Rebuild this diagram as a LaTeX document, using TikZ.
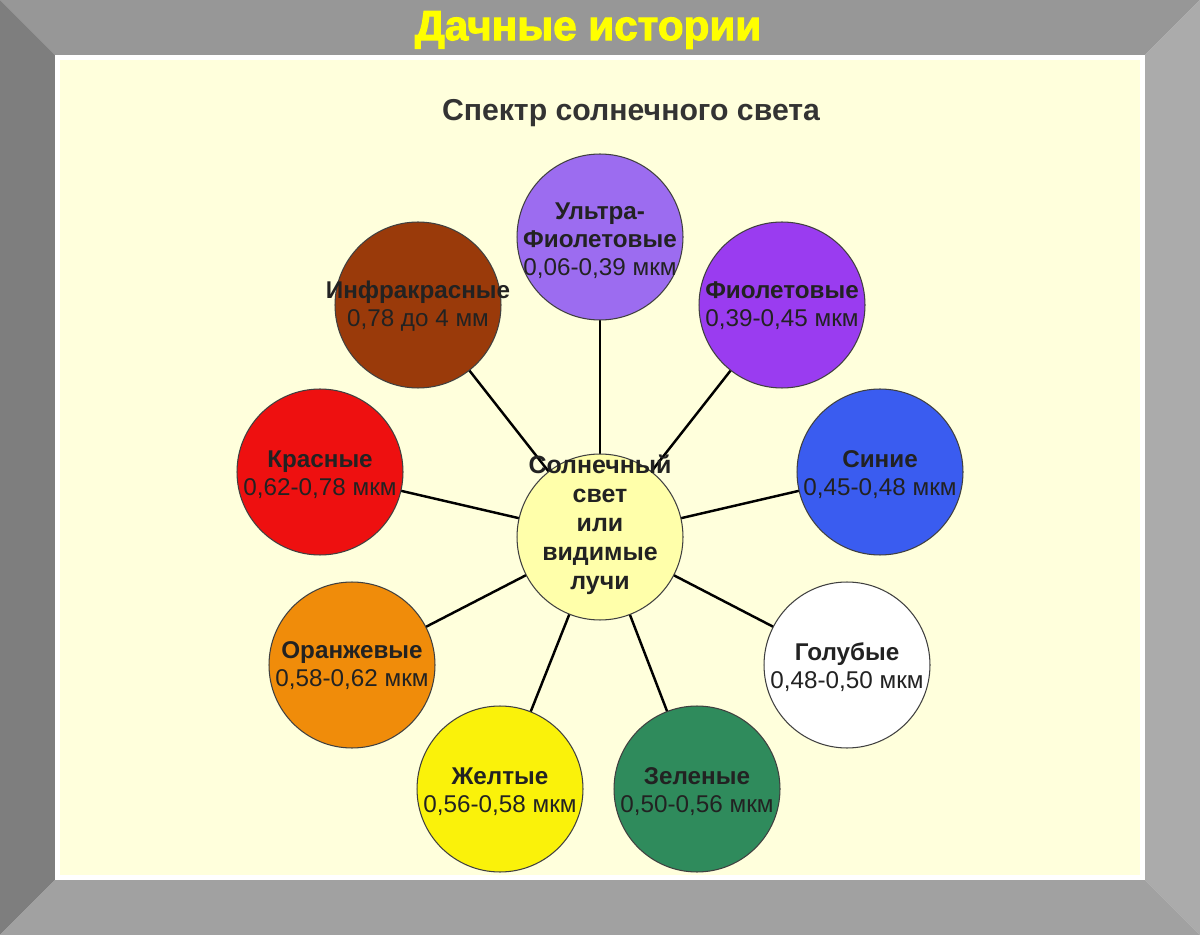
\documentclass[tikz,border=0pt]{standalone}
\usepackage{fontspec}
\setmainfont{Liberation Sans}
\newfontfamily\heavyfont{Liberation Sans}[BoldFeatures={FakeBold=2.5}]
\usetikzlibrary{backgrounds}
\definecolor{frametop}{HTML}{979797}
\definecolor{frameleft}{HTML}{7E7E7E}
\definecolor{frameright}{HTML}{ABABAB}
\definecolor{framebottom}{HTML}{A1A1A1}
\definecolor{cream}{HTML}{FFFFDC}
\definecolor{cUltra}{HTML}{9C6CF0}
\definecolor{cViolet}{HTML}{9A3CF0}
\definecolor{cInfra}{HTML}{9A3A0A}
\definecolor{cRed}{HTML}{EE1010}
\definecolor{cBlue}{HTML}{3A5CF0}
\definecolor{cOrange}{HTML}{F08C0A}
\definecolor{cLight}{HTML}{FFFFFF}
\definecolor{cYellow}{HTML}{FAF20A}
\definecolor{cGreen}{HTML}{2F8B5C}
\definecolor{cCenter}{HTML}{FFFFAA}
\definecolor{txt}{HTML}{222222}
\definecolor{titletxt}{HTML}{333333}
\definecolor{headyellow}{HTML}{FFFF00}
\begin{document}
\begin{tikzpicture}[x=0.02cm,y=-0.02cm,
  circ/.style={circle, draw=black!75, line width=0.6pt, minimum size=3.32cm, inner sep=0pt},
  lab/.style={align=center, text=txt, inner sep=0pt, font=\fontsize{13.8}{16}\selectfont},
  ray/.style={draw=black, line width=1.4pt}]
\useasboundingbox (0,0) rectangle (1200,935);
\begin{pgfonlayer}{background}
  \fill[frametop] (0,0) -- (1200,0) -- (1145,55) -- (55,55) -- cycle;
  \fill[frameleft] (0,0) -- (55,55) -- (55,880) -- (0,935) -- cycle;
  \fill[frameright] (1200,0) -- (1200,935) -- (1145,880) -- (1145,55) -- cycle;
  \fill[framebottom] (0,935) -- (1200,935) -- (1145,880) -- (55,880) -- cycle;
  \fill[white] (55,55) rectangle (1145,880);
  \fill[cream] (60,60) rectangle (1140,875);
\end{pgfonlayer}
\node[text=headyellow, font=\heavyfont\fontsize{24}{27}\bfseries] (head) at (588,30) {Дачные истории};
\node[text=titletxt, font=\fontsize{17.2}{20}\bfseries] (title) at (631,113) {Спектр солнечного света};

\node[circ, fill=cCenter] (c) at (600,537) {};
\node[circ, fill=cUltra] (u) at (600,237) {};
\node[circ, fill=cViolet] (v) at (782,305) {};
\node[circ, fill=cInfra] (i) at (418,305) {};
\node[circ, fill=cRed] (r) at (320,472) {};
\node[circ, fill=cBlue] (b) at (880,472) {};
\node[circ, fill=cOrange] (o) at (352,665) {};
\node[circ, fill=cLight] (l) at (847,665) {};
\node[circ, fill=cYellow] (y) at (500,789) {};
\node[circ, fill=cGreen] (g) at (697,789) {};

\begin{pgfonlayer}{background}
  \foreach \n in {u,v,i,r,b,o,l,y,g} { \draw[ray] (c.center) -- (\n.center); }
\end{pgfonlayer}

\node[lab, font=\fontsize{14.2}{16.5}\selectfont] (ct) at (600,525) {\textbf{Солнечный}\\\textbf{свет}\\\textbf{или}\\\textbf{видимые}\\\textbf{лучи}};
\node[lab] (ut) at (600,241) {\textbf{Ультра-}\\\textbf{Фиолетовые}\\0,06-0,39 мкм};
\node[lab] (vt) at (782,306) {\textbf{Фиолетовые}\\0,39-0,45 мкм};
\node[lab] (it) at (418,306) {\textbf{Инфракрасные}\\0,78 до 4 мм};
\node[lab] (rt) at (320,475) {\textbf{Красные}\\0,62-0,78 мкм};
\node[lab] (bt) at (880,475) {\textbf{Синие}\\0,45-0,48 мкм};
\node[lab] (ot) at (352,666) {\textbf{Оранжевые}\\0,58-0,62 мкм};
\node[lab] (lt) at (847,667) {\textbf{Голубые}\\0,48-0,50 мкм};
\node[lab] (yt) at (500,792) {\textbf{Желтые}\\0,56-0,58 мкм};
\node[lab] (gt) at (697,792) {\textbf{Зеленые}\\0,50-0,56 мкм};
\end{tikzpicture}
\end{document}
